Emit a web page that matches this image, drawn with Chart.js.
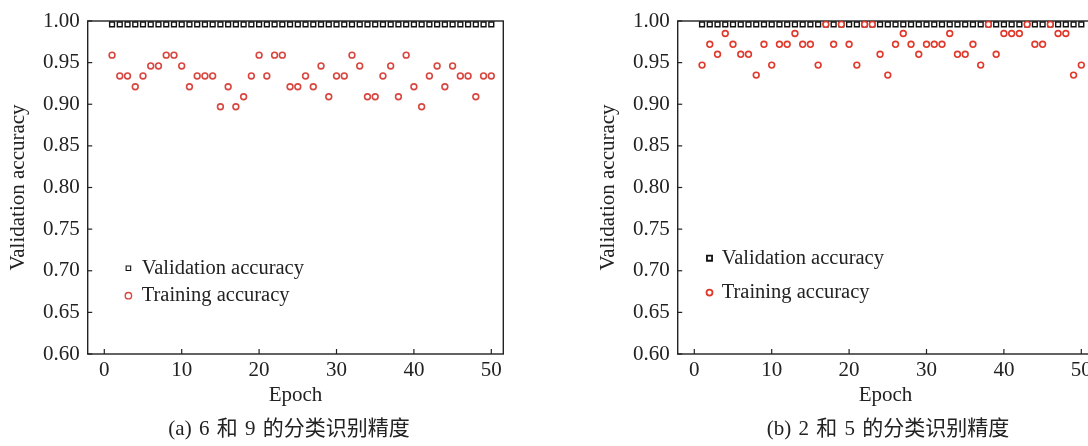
<!DOCTYPE html>
<html><head><meta charset="utf-8">
<script src="https://cdn.jsdelivr.net/npm/chart.js@4/dist/chart.umd.min.js"></script>
<style>
html,body{margin:0;padding:0;background:#fff;width:1088px;height:446px;overflow:hidden;position:relative}
.panel{position:absolute;top:0;width:545px;height:446px}
.cap{position:absolute;top:414px;width:400px;text-align:center;font-size:21px;font-family:"Liberation Serif","Noto Sans CJK SC",serif;color:#222;word-spacing:2px;line-height:28px;white-space:nowrap}
</style></head><body>
<div class="panel" style="left:0"><canvas id="ca" width="545" height="446"></canvas></div>
<div class="panel" style="left:590px"><canvas id="cb" width="545" height="446"></canvas></div>
<div class="cap" id="capA" style="left:89px"></div>
<div class="cap" id="capB" style="left:688px"></div>
<script>
// ---- data ----
const epochs = [1,2,3,4,5,6,7,8,9,10,11,12,13,14,15,16,17,18,19,20,21,22,23,24,25,26,27,28,29,30,31,32,33,34,35,36,37,38,39,40,41,42,43,44,45,46,47,48,49,50];
const xTickValues = [0,10,20,30,40,50];
const yTickLabels = ['0.60','0.65','0.70','0.75','0.80','0.85','0.90','0.95','1.00'];
const seriesNames = ['Validation accuracy','Training accuracy'];
const captions = ['(a) 6 和 9 的分类识别精度','(b) 2 和 5 的分类识别精度'];

const validationA = [0.996,0.996,0.996,0.996,0.996,0.996,0.996,0.996,0.996,0.996,0.996,0.996,0.996,0.996,0.996,0.996,0.996,0.996,0.996,0.996,0.996,0.996,0.996,0.996,0.996,0.996,0.996,0.996,0.996,0.996,0.996,0.996,0.996,0.996,0.996,0.996,0.996,0.996,0.996,0.996,0.996,0.996,0.996,0.996,0.996,0.996,0.996,0.996,0.996,0.996];
const trainingA = [0.959,0.934,0.934,0.921,0.934,0.946,0.946,0.959,0.959,0.946,0.921,0.934,0.934,0.934,0.897,0.921,0.897,0.909,0.934,0.959,0.934,0.959,0.959,0.921,0.921,0.934,0.921,0.946,0.909,0.934,0.934,0.959,0.946,0.909,0.909,0.934,0.946,0.909,0.959,0.921,0.897,0.934,0.946,0.921,0.946,0.934,0.934,0.909,0.934,0.934];

const validationB = [0.996,0.996,0.996,0.996,0.996,0.996,0.996,0.996,0.996,0.996,0.996,0.996,0.996,0.996,0.996,0.996,0.996,0.996,0.996,0.996,0.996,0.996,0.996,0.996,0.996,0.996,0.996,0.996,0.996,0.996,0.996,0.996,0.996,0.996,0.996,0.996,0.996,0.996,0.996,0.996,0.996,0.996,0.996,0.996,0.996,0.996,0.996,0.996,0.996,0.996];
const trainingB = [0.947,0.972,0.960,0.985,0.972,0.960,0.960,0.935,0.972,0.947,0.972,0.972,0.985,0.972,0.972,0.947,0.996,0.972,0.996,0.972,0.947,0.996,0.996,0.960,0.935,0.972,0.985,0.972,0.960,0.972,0.972,0.972,0.985,0.960,0.960,0.972,0.947,0.996,0.960,0.985,0.985,0.985,0.996,0.972,0.972,0.996,0.985,0.985,0.935,0.947];

document.getElementById('capA').textContent = captions[0];
document.getElementById('capB').textContent = captions[1];

// ---- drawing ----
const SERIF = '"Liberation Serif","Times New Roman",serif';
const INK = '#222';

function pts(xs, ys){ return xs.map((x,i)=>({x:x, y:ys[i]})); }

const frameTicks = {
  id:'frameTicks',
  beforeDatasetsDraw(chart){
    const {ctx, chartArea:a, scales:{x,y}} = chart;
    ctx.save();
    ctx.strokeStyle = INK; ctx.lineWidth = 1.4;
    ctx.strokeRect(a.left, a.top, a.right-a.left, a.bottom-a.top);
    ctx.lineWidth = 1.2;
    x.ticks.forEach(t=>{const p=x.getPixelForValue(t.value); ctx.beginPath(); ctx.moveTo(p,a.bottom); ctx.lineTo(p,a.bottom-5); ctx.stroke();});
    y.ticks.forEach(t=>{const p=y.getPixelForValue(t.value); ctx.beginPath(); ctx.moveTo(a.left,p); ctx.lineTo(a.left+4.5,p); ctx.stroke();});
    ctx.restore();
  }
};

const innerLegend = {
  id:'innerLegend',
  afterDraw(chart, args, opts){
    const {ctx, chartArea:a} = chart;
    ctx.save();
    ctx.font = '20.5px ' + SERIF;
    ctx.fillStyle = INK; ctx.textAlign='left'; ctx.textBaseline='middle';
    const order = [1,0]; // validation first, then training
    order.forEach((di,row)=>{
      const ds = chart.data.datasets[di];
      const mx = a.left + opts.mx, my = a.top + opts.rows[row];
      ctx.save();
      ctx.strokeStyle = ds.borderColor; ctx.fillStyle = '#fff'; ctx.lineWidth = opts.lw[row];
      Chart.helpers.drawPoint(ctx, {pointStyle: ds.pointStyle, radius: opts.r[row], borderWidth: opts.lw[row], rotation:0}, mx, my);
      ctx.restore();
      ctx.fillText(ds.label, a.left + opts.tx, my);
    });
    ctx.restore();
  }
};

function makeChart(id, training, validation, red, legendOpts){
  return new Chart(document.getElementById(id), {
    type:'scatter',
    data:{ datasets:[
      { label: seriesNames[1], data: pts(epochs, training), order:0, clip:false,
        pointStyle:'circle', pointRadius:2.9, borderWidth:1.6, borderColor:red, backgroundColor:'#fff', showLine:false },
      { label: seriesNames[0], data: pts(epochs, validation), order:1, clip:false,
        pointStyle:'rect', pointRadius:3.4, borderWidth:1.4, borderColor:'#111', backgroundColor:'#fff', showLine:false }
    ]},
    options:{
      responsive:false, animation:false, devicePixelRatio:1,
      layout:{ padding:{ left:0, top:21, right:41.7, bottom:0 } },
      plugins:{ legend:{display:false}, tooltip:{enabled:false}, innerLegend: legendOpts },
      scales:{
        x:{ type:'linear', min:-2.145, max:51.55,
            afterBuildTicks: s=>{ s.ticks = xTickValues.map(v=>({value:v})); },
            afterFit: s=>{ s.height = 92; },
            grid:{ display:false, drawTicks:false }, border:{ display:false },
            ticks:{ padding:4, color:INK, font:{family:SERIF, size:21}, maxRotation:0, autoSkip:false },
            title:{ display:true, text:'Epoch', color:INK, font:{family:SERIF, size:21}, padding:{top:0, bottom:38} } },
        y:{ min:0.6, max:1.0,
            afterBuildTicks: s=>{ s.ticks = yTickLabels.map(v=>({value:parseFloat(v)})); },
            afterFit: s=>{ s.width = 87.7; },
            grid:{ display:false, drawTicks:false }, border:{ display:false },
            ticks:{ padding:8, color:INK, font:{family:SERIF, size:21},
                    callback:(v,i)=>yTickLabels[i] },
            title:{ display:true, text:'Validation accuracy', color:INK, font:{family:SERIF, size:21}, padding:{top:6, bottom:0} } }
      }
    },
    plugins:[frameTicks, innerLegend]
  });
}

makeChart('ca', trainingA, validationA, '#d8463f', {mx:40.7, tx:54, rows:[247.3, 274.7], r:[3.2,3.2], lw:[1.1,1.4]});
makeChart('cb', trainingB, validationB, '#e0392b', {mx:31.8, tx:44, rows:[237.2, 271.6], r:[3.6,3.0], lw:[1.8,1.8]});
</script>
</body></html>
